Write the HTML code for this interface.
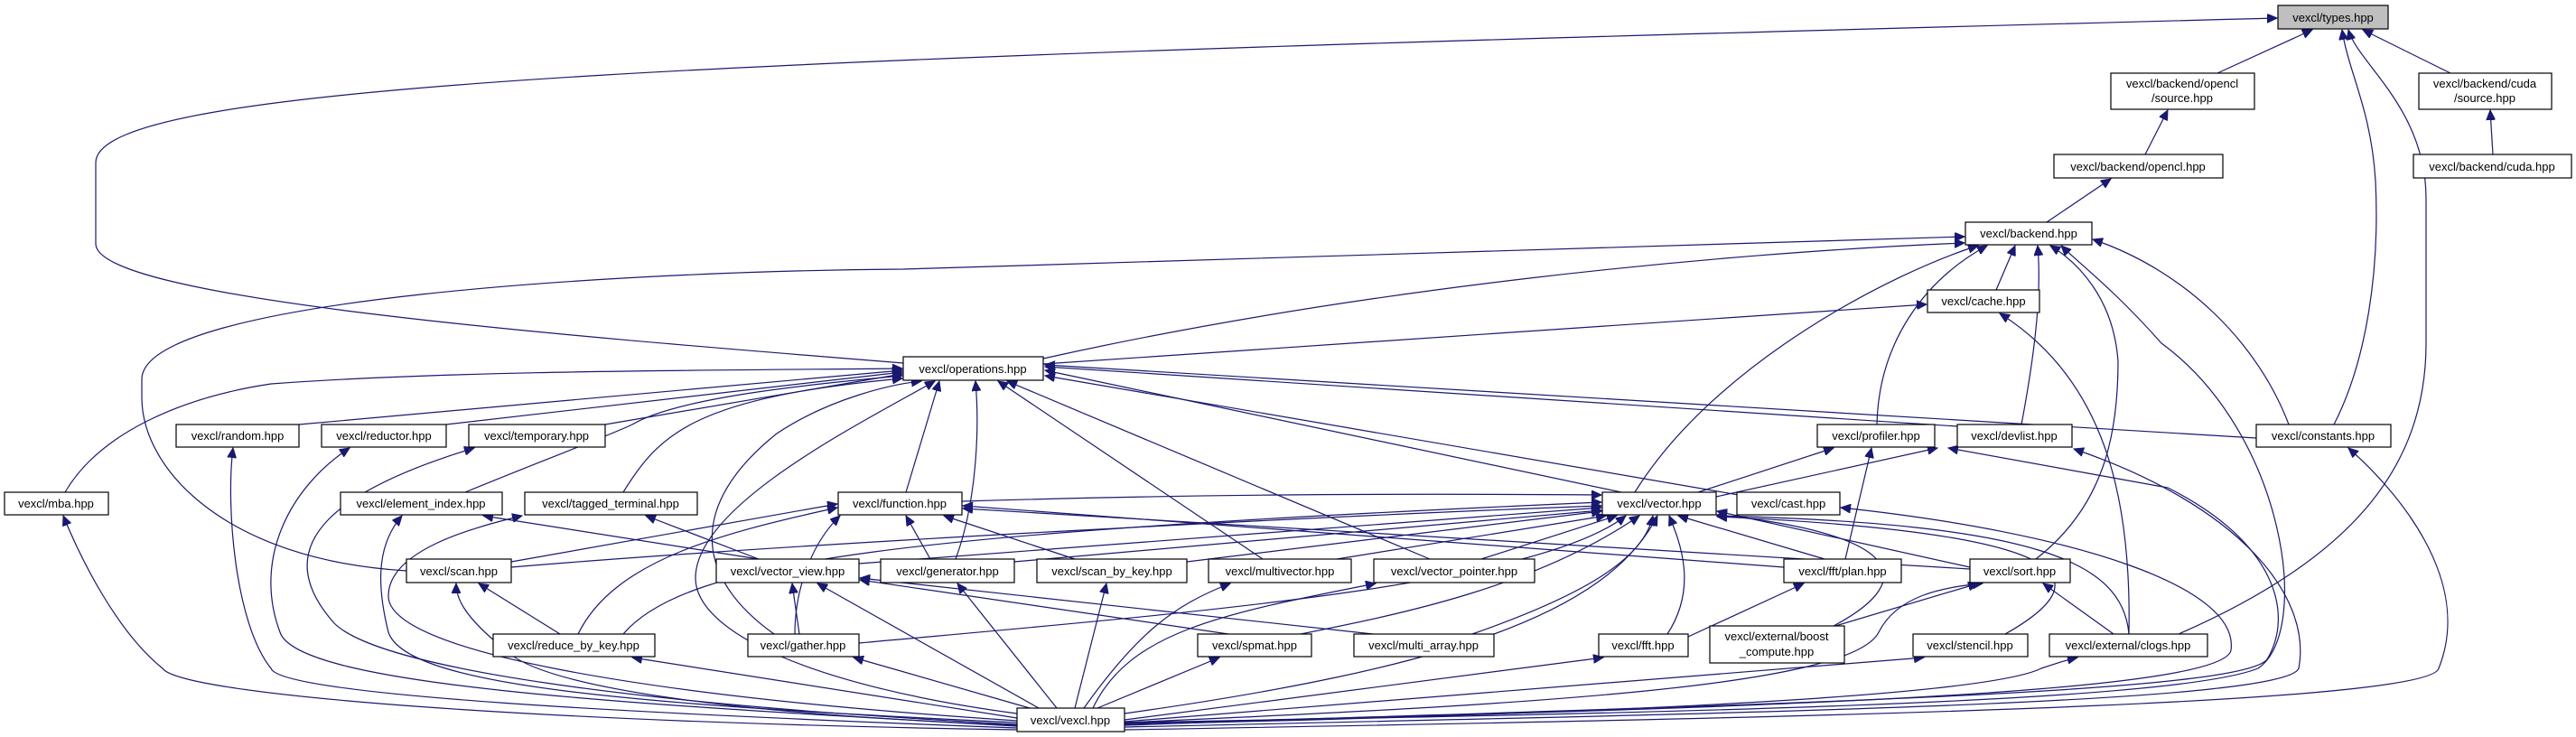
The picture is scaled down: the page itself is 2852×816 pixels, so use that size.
<!DOCTYPE html>
<html><head><meta charset="utf-8"><style>
html,body{margin:0;padding:0;background:#fff;}
svg{display:block;}
text{font-family:"Liberation Sans",sans-serif;font-size:13px;fill:#000;}
.n{fill:#fff;stroke:#000;stroke-width:1.2;}
.e{fill:none;stroke:#191970;stroke-width:1.2;}
</style></head><body>
<svg width="2852" height="816" viewBox="0 0 2852 816" xmlns="http://www.w3.org/2000/svg">
<defs>
<marker id="a" markerUnits="userSpaceOnUse" markerWidth="12" markerHeight="10" refX="11" refY="5" orient="auto">
<path d="M0,0 L11,5 L0,10 z" fill="#191970" stroke="#191970"/>
</marker>
</defs>
<g class="e" marker-end="url(#a)">
<path d="M2455,81 L2560,33"/>
<path d="M2713,81 L2616,33"/>
<path d="M2375,171 L2400,122"/>
<path d="M2760,171 L2757,122"/>
<path d="M2266,246 L2337,198"/>
<path d="M1000,402 C600,370 106,330 106,270 L106,180 C106,90 800,65 2521,20"/>
<path d="M2584,470 C2620,400 2635,300 2630,200 C2625,120 2600,80 2593,33"/>
<path d="M2412,702 C2600,620 2686,520 2686,380 L2686,220 C2686,120 2610,70 2600,33"/>
<path d="M450,632 C250,620 157,520 157,440 L157,420 C157,330 700,300 1000,298 L2175,262"/>
<path d="M1155,397 C1500,320 1900,280 2175,269"/>
<path d="M2210,321 L2231,272"/>
<path d="M1155,403 L2133,337"/>
<path d="M1810,545 C1900,400 2100,300 2190,272"/>
<path d="M2078,470 C2080,380 2130,310 2200,272"/>
<path d="M2238,470 C2255,380 2260,320 2256,272"/>
<path d="M2254,619 C2330,560 2345,480 2345,400 C2340,330 2300,290 2270,272"/>
<path d="M1245,800 C1800,790 2400,780 2500,740 C2560,700 2530,480 2393,380 C2340,320 2300,290 2282,272"/>
<path d="M2534,470 C2500,380 2420,300 2317,265"/>
<path d="M2357,702 C2360,550 2330,420 2214,347"/>
<path d="M72,545 C110,480 200,440 300,425 C500,410 800,410 999,408"/>
<path d="M331,470 L999,410"/>
<path d="M494,470 L999,412"/>
<path d="M670,470 L999,414"/>
<path d="M515,545 C600,510 680,480 700,470 C750,440 900,425 999,416"/>
<path d="M690,545 C730,480 770,440 999,419"/>
<path d="M1003,545 L1040,422"/>
<path d="M1058,619 C1080,560 1085,480 1080,422"/>
<path d="M1398,619 L1105,422"/>
<path d="M1583,619 L1115,422"/>
<path d="M1795,545 L1157,410"/>
<path d="M1925,548 L1157,416"/>
<path d="M2167,472 L1157,406"/>
<path d="M2498,485 L1157,404"/>
<path d="M857,702 C770,640 760,560 860,480 C920,440 990,425 1020,422"/>
<path d="M1126,790 C900,760 770,700 770,640 C770,560 950,470 1035,422"/>
<path d="M1880,545 L2030,496"/>
<path d="M1900,550 L2145,496"/>
<path d="M2043,619 L2072,496"/>
<path d="M1245,803 C1900,780 2480,770 2510,730 C2540,680 2520,600 2400,540 L2157,496"/>
<path d="M1245,805 C1900,790 2530,780 2545,740 C2560,660 2480,560 2296,497"/>
<path d="M1245,808 C2000,795 2690,780 2700,740 C2740,640 2650,540 2600,496"/>
<path d="M1245,801 C1900,785 2460,770 2470,720 C2480,650 2300,590 2038,562"/>
<path d="M1065,555 C1300,548 1500,546 1773,548"/>
<path d="M1975,628 L1066,560"/>
<path d="M2181,630 L1066,563"/>
<path d="M566,622 L927,558"/>
<path d="M640,702 C680,620 800,590 927,562"/>
<path d="M880,702 C880,650 900,600 930,571"/>
<path d="M1030,619 L1003,571"/>
<path d="M1190,619 L1045,571"/>
<path d="M566,628 C900,600 1500,570 1773,560"/>
<path d="M951,624 L1773,562"/>
<path d="M1123,622 L1773,565"/>
<path d="M1314,622 L1773,566"/>
<path d="M1480,619 L1778,571"/>
<path d="M1640,619 L1790,571"/>
<path d="M690,702 C760,620 1000,590 1773,556"/>
<path d="M951,712 C1300,680 1700,650 1800,571"/>
<path d="M1440,702 C1550,680 1700,650 1815,571"/>
<path d="M1630,702 C1750,660 1820,620 1830,571"/>
<path d="M1245,790 C1600,740 1780,680 1835,571"/>
<path d="M1846,702 C1880,650 1860,600 1848,571"/>
<path d="M2020,619 L1858,571"/>
<path d="M2181,628 L1901,566"/>
<path d="M2030,693 C2130,640 2100,590 1901,570"/>
<path d="M2220,702 C2330,640 2300,590 1901,572"/>
<path d="M2357,702 C2350,620 2250,580 1901,571"/>
<path d="M840,619 L535,571"/>
<path d="M840,619 L715,571"/>
<path d="M885,702 L877,646"/>
<path d="M1360,702 L952,642"/>
<path d="M1520,702 L952,640"/>
<path d="M1150,784 L905,646"/>
<path d="M620,702 L530,646"/>
<path d="M1126,803 C800,790 600,760 560,720 C510,680 505,660 505,646"/>
<path d="M1126,800 C700,780 450,760 430,700 C415,640 420,600 445,571"/>
<path d="M1126,798 C700,770 430,720 430,660 C430,610 520,585 578,571"/>
<path d="M1126,806 C700,790 310,770 300,740 C260,690 250,560 258,496"/>
<path d="M1126,804 C700,780 330,760 310,700 C280,620 320,540 387,496"/>
<path d="M1126,802 C700,780 420,740 370,690 C290,600 380,540 525,496"/>
<path d="M1126,808 C600,800 200,770 180,740 C130,700 90,620 70,571"/>
<path d="M1126,795 L700,728"/>
<path d="M1140,784 L945,728"/>
<path d="M1170,784 L1060,646"/>
<path d="M1190,784 L1225,646"/>
<path d="M1200,784 C1260,700 1300,670 1362,646"/>
<path d="M1210,784 C1250,700 1350,680 1523,646"/>
<path d="M1215,784 L1350,728"/>
<path d="M1245,797 L1775,728"/>
<path d="M1869,705 L1997,646"/>
<path d="M2032,693 L2190,646"/>
<path d="M1245,800 C1700,780 2050,760 2080,700 C2100,660 2150,650 2195,646"/>
<path d="M2340,702 L2262,646"/>
<path d="M1245,799 L2130,728"/>
<path d="M1245,802 C1800,790 2200,770 2260,740 C2275,735 2290,730 2300,728"/>
</g>
<g>
<rect class="n" x="2522" y="6" width="122" height="26" style="fill:#bfbfbf"/><text x="2583" y="24" text-anchor="middle">vexcl/types.hpp</text>
<rect class="n" x="2337" y="81" width="159" height="40"/><text x="2416" y="97" text-anchor="middle">vexcl/backend/opencl</text><text x="2416" y="113" text-anchor="middle">/source.hpp</text>
<rect class="n" x="2678" y="81" width="147" height="40"/><text x="2751" y="97" text-anchor="middle">vexcl/backend/cuda</text><text x="2751" y="113" text-anchor="middle">/source.hpp</text>
<rect class="n" x="2274" y="171" width="187" height="26"/><text x="2367" y="189" text-anchor="middle">vexcl/backend/opencl.hpp</text>
<rect class="n" x="2672" y="171" width="175" height="26"/><text x="2759" y="189" text-anchor="middle">vexcl/backend/cuda.hpp</text>
<rect class="n" x="2176" y="246" width="140" height="25"/><text x="2246" y="263" text-anchor="middle">vexcl/backend.hpp</text>
<rect class="n" x="2134" y="321" width="124" height="25"/><text x="2196" y="338" text-anchor="middle">vexcl/cache.hpp</text>
<rect class="n" x="1000" y="395" width="155" height="26"/><text x="1077" y="413" text-anchor="middle">vexcl/operations.hpp</text>
<rect class="n" x="195" y="470" width="136" height="25"/><text x="263" y="487" text-anchor="middle">vexcl/random.hpp</text>
<rect class="n" x="356" y="470" width="138" height="25"/><text x="425" y="487" text-anchor="middle">vexcl/reductor.hpp</text>
<rect class="n" x="519" y="470" width="151" height="25"/><text x="594" y="487" text-anchor="middle">vexcl/temporary.hpp</text>
<rect class="n" x="2012" y="470" width="130" height="25"/><text x="2077" y="487" text-anchor="middle">vexcl/profiler.hpp</text>
<rect class="n" x="2167" y="470" width="127" height="25"/><text x="2230" y="487" text-anchor="middle">vexcl/devlist.hpp</text>
<rect class="n" x="2498" y="470" width="149" height="25"/><text x="2572" y="487" text-anchor="middle">vexcl/constants.hpp</text>
<rect class="n" x="5" y="545" width="115" height="25"/><text x="62" y="562" text-anchor="middle">vexcl/mba.hpp</text>
<rect class="n" x="377" y="545" width="179" height="25"/><text x="466" y="562" text-anchor="middle">vexcl/element_index.hpp</text>
<rect class="n" x="581" y="545" width="191" height="25"/><text x="676" y="562" text-anchor="middle">vexcl/tagged_terminal.hpp</text>
<rect class="n" x="928" y="545" width="137" height="25"/><text x="996" y="562" text-anchor="middle">vexcl/function.hpp</text>
<rect class="n" x="1774" y="545" width="126" height="25"/><text x="1837" y="562" text-anchor="middle">vexcl/vector.hpp</text>
<rect class="n" x="1923" y="545" width="114" height="25"/><text x="1980" y="562" text-anchor="middle">vexcl/cast.hpp</text>
<rect class="n" x="450" y="619" width="116" height="26"/><text x="508" y="637" text-anchor="middle">vexcl/scan.hpp</text>
<rect class="n" x="793" y="619" width="158" height="26"/><text x="872" y="637" text-anchor="middle">vexcl/vector_view.hpp</text>
<rect class="n" x="975" y="619" width="148" height="26"/><text x="1049" y="637" text-anchor="middle">vexcl/generator.hpp</text>
<rect class="n" x="1148" y="619" width="166" height="26"/><text x="1231" y="637" text-anchor="middle">vexcl/scan_by_key.hpp</text>
<rect class="n" x="1338" y="619" width="158" height="26"/><text x="1417" y="637" text-anchor="middle">vexcl/multivector.hpp</text>
<rect class="n" x="1521" y="619" width="178" height="26"/><text x="1610" y="637" text-anchor="middle">vexcl/vector_pointer.hpp</text>
<rect class="n" x="1975" y="619" width="130" height="26"/><text x="2040" y="637" text-anchor="middle">vexcl/fft/plan.hpp</text>
<rect class="n" x="2181" y="619" width="111" height="26"/><text x="2236" y="637" text-anchor="middle">vexcl/sort.hpp</text>
<rect class="n" x="546" y="702" width="179" height="25"/><text x="635" y="719" text-anchor="middle">vexcl/reduce_by_key.hpp</text>
<rect class="n" x="828" y="702" width="123" height="25"/><text x="889" y="719" text-anchor="middle">vexcl/gather.hpp</text>
<rect class="n" x="1326" y="702" width="126" height="25"/><text x="1389" y="719" text-anchor="middle">vexcl/spmat.hpp</text>
<rect class="n" x="1499" y="702" width="155" height="25"/><text x="1576" y="719" text-anchor="middle">vexcl/multi_array.hpp</text>
<rect class="n" x="1770" y="702" width="99" height="25"/><text x="1819" y="719" text-anchor="middle">vexcl/fft.hpp</text>
<rect class="n" x="1893" y="693" width="149" height="41"/><text x="1967" y="709" text-anchor="middle">vexcl/external/boost</text><text x="1967" y="726" text-anchor="middle">_compute.hpp</text>
<rect class="n" x="2118" y="702" width="127" height="25"/><text x="2181" y="719" text-anchor="middle">vexcl/stencil.hpp</text>
<rect class="n" x="2269" y="702" width="175" height="25"/><text x="2356" y="719" text-anchor="middle">vexcl/external/clogs.hpp</text>
<rect class="n" x="1126" y="784" width="119" height="26"/><text x="1185" y="802" text-anchor="middle">vexcl/vexcl.hpp</text>
</g>
</svg>
</body></html>
